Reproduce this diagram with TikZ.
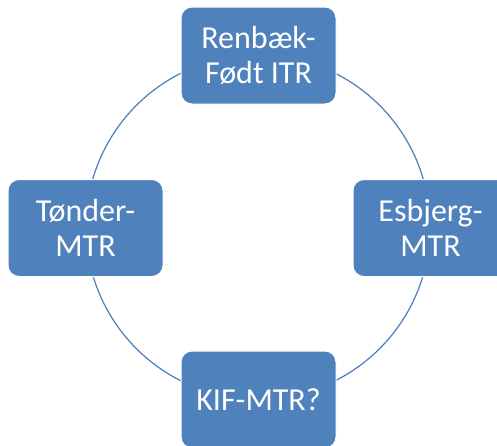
\documentclass[tikz,border=0pt]{standalone}
\usepackage{fontspec}
\setmainfont{Carlito}
\definecolor{boxblue}{HTML}{4F81BD}
\definecolor{ringblue}{HTML}{4A7EBB}
\begin{document}
\begin{tikzpicture}[x=1pt,y=-1pt,
  cyclebox/.style={fill=boxblue, draw=white, line width=1pt, rounded corners=11pt,
    minimum width=155pt, minimum height=97pt, text=white, align=center,
    font=\fontsize{32}{35}\selectfont, inner sep=0pt}]
\useasboundingbox (0,0) rectangle (497,445);
\coordinate (c) at (258,227);
\draw[ringblue, line width=1.2pt] (c) circle[radius=172];
\node[cyclebox] (top) at (258.5,55.5) {Renbæk-\\Født ITR};
\node[cyclebox] (left) at (85.5,228) {Tønder-\\MTR};
\node[cyclebox] (right) at (430.5,228) {Esbjerg-\\MTR};
\node[cyclebox] (bottom) at (258.5,399.5) {KIF-MTR?};
\end{tikzpicture}
\end{document}
